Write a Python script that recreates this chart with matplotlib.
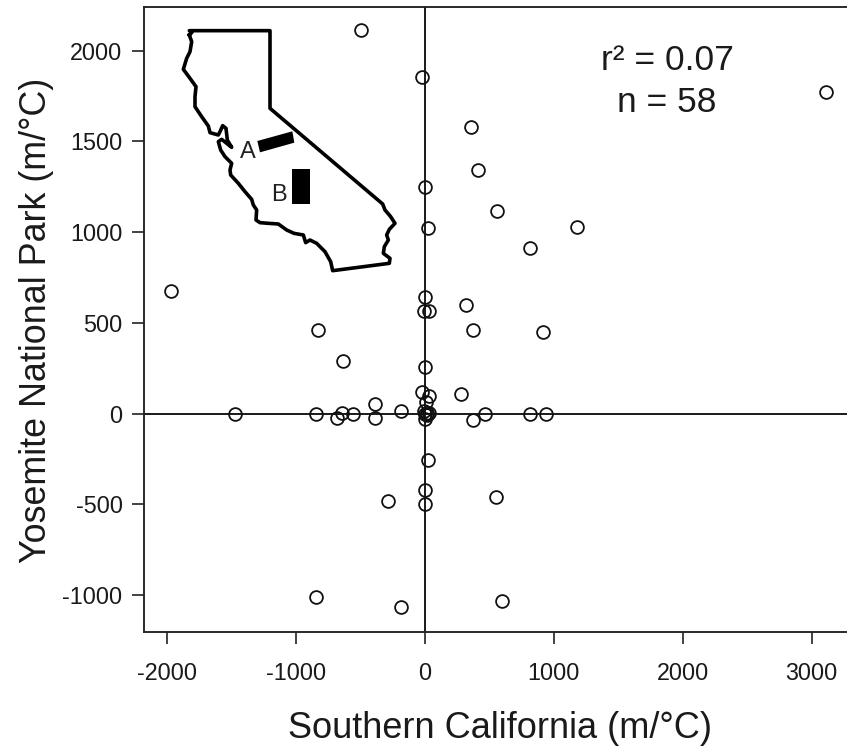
import matplotlib
matplotlib.use("Agg")
import matplotlib.pyplot as plt

plt.rcParams['font.family'] = ['Liberation Sans', 'DejaVu Sans']
plt.rcParams['axes.unicode_minus'] = False

# Scatter data (m/degC)
socal = [-494, -20, 360, 410, 0, 560, 25, 816, 1180, 3111,
         -1966, 0, 320, -5, 33, 374, 917, -827, -633, 0,
         -20, 30, 10, 285, -5, 20, 0, 15, 36, 0,
         464, 376, 817, 940, -642, -680, -555, -388, -388, -184,
         22, 0, 0, -285, 554, -1470, -842, -842, -183, 600]
yosemite = [2111, 1857, 1581, 1344, 1250, 1118, 1024, 913, 1030, 1769,
            676, 643, 599, 566, 566, 461, 450, 461, 291, 257,
            120, 96, 63, 110, 15, 2, -28, -7, 5, 0,
            0, -35, 0, 0, 5, -27, 0, 53, -27, 13,
            -257, -420, -497, -483, -460, 0, 0, -1011, -1066, -1032]

x_ticks = [-2000, -1000, 0, 1000, 2000, 3000]
y_ticks = [-1000, -500, 0, 500, 1000, 1500, 2000]
x_label = "Southern California (m/°C)"
y_label = "Yosemite National Park (m/°C)"
stat_lines = "r² = 0.07\nn = 58"

# Inset map, in its own 0-870 sketch coordinates
map_x = [148, 155, 148, 390, 390, 728, 735, 752, 765, 748, 740, 745, 733, 730, 750, 748, 578, 572, 555,
         530, 510, 497, 490, 462, 440, 415, 385, 360, 348, 350, 340, 335, 315, 295, 272, 270,
         275, 255, 242, 235, 245, 275, 262, 258, 248, 240, 235, 210, 205, 185, 165, 165, 168,
         150, 130, 140, 150, 155, 148]
map_y = [105, 98, 92, 92, 325, 612, 630, 650, 670, 688, 705, 720, 740, 760, 775, 790, 812, 785, 755,
         730, 720, 728, 705, 700, 690, 672, 670, 668, 660, 630, 615, 598, 575, 550, 525, 510,
         490, 470, 450, 425, 418, 442, 420, 385, 377, 395, 405, 398, 378, 350, 320, 290, 260,
         235, 208, 175, 155, 125, 105]
region_a = [(352, 423), (457, 394), (463, 428), (360, 457)]
region_b = [(456, 507), (511, 507), (511, 611), (456, 611)]

W, H = 847, 746
fig = plt.figure(figsize=(W / 100, H / 100), dpi=100)
L, R, T, B = 144, 847, 7, 632
ax = fig.add_axes([L / W, 1 - B / H, (R - L) / W, (B - T) / H])
ax.set_xlim(-2176, 3274)
ax.set_ylim(-1204, 2240)

ax.axhline(0, color='#111111', lw=1.35, zorder=1)
ax.axvline(0, color='#111111', lw=1.35, zorder=1)
ax.plot(socal, yosemite, ls='none', marker='o', ms=9.2, mfc='none', mec='#111111', mew=1.3, zorder=2)

ax.set_xticks(x_ticks)
ax.set_yticks(y_ticks)
ax.tick_params(axis='both', length=8.4, width=1.2, color='#222222', labelsize=16.8, labelcolor='#1a1a1a')
ax.tick_params(axis='x', pad=13)
ax.tick_params(axis='y', pad=7)
for s in ax.spines.values():
    s.set_linewidth(1.35)
    s.set_color('#222222')
ax.spines['right'].set_visible(False)

ax.set_xlabel(x_label, fontsize=26, color='#1a1a1a', va='center')
ax.xaxis.set_label_coords((500 - L) / (R - L), (B - 728) / (B - T))
ax.set_ylabel(y_label, fontsize=25.8, color='#1a1a1a', va='center')
ax.yaxis.set_label_coords((36 - L) / (R - L), (B - 320) / (B - T))

ax.text((667 - L) / (R - L), (B - 81.5) / (B - T), stat_lines, transform=ax.transAxes,
        ha='center', va='center', fontsize=25.5, color='#1a1a1a', linespacing=1.32)

# Inset map
inset = fig.add_axes([140 / W, 1 - 290 / H, 290 / W, 290 / H], facecolor='none')
inset.set_xlim(0, 870)
inset.set_ylim(870, 0)
inset.axis('off')
inset.plot(map_x, map_y, color='black', lw=2.6, solid_joinstyle='round')
inset.fill(*zip(*region_a), color='black', lw=0)
inset.fill(*zip(*region_b), color='black', lw=0)
inset.text(322, 456, "A", ha='center', va='center', fontsize=17, color='#222222')
inset.text(417, 585, "B", ha='center', va='center', fontsize=17, color='#222222')

fig.savefig("out.png", dpi=100)
